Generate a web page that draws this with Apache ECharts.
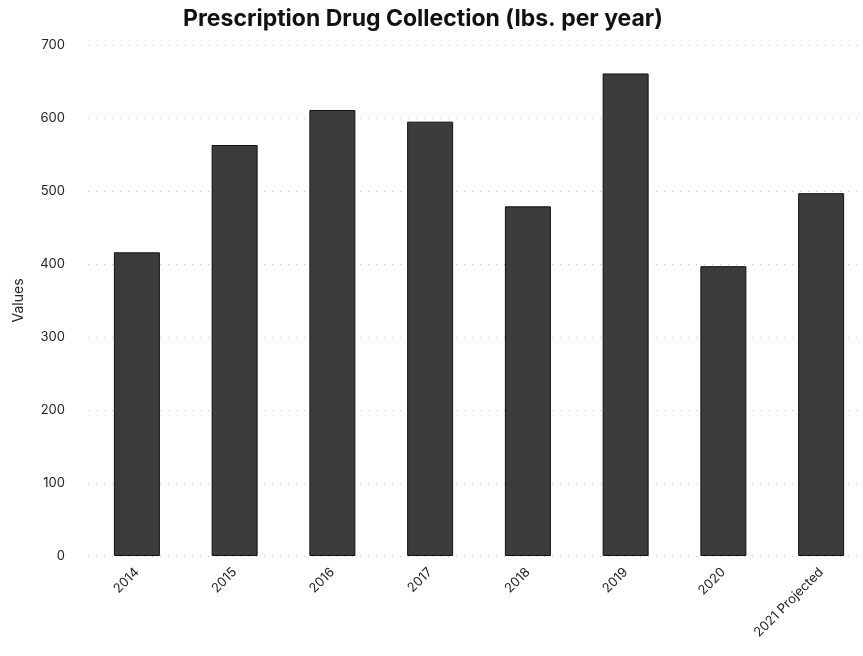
<!DOCTYPE html>
<html>
<head>
<meta charset="utf-8">
<script src="https://cdn.jsdelivr.net/npm/echarts@6/dist/echarts.min.js"></script>
<style>html,body{margin:0;padding:0;background:#fff;}#c{width:863px;height:656px;}</style>
</head>
<body>
<div id="c"></div>
<script>
var categories = ['2014', '2015', '2016', '2017', '2018', '2019', '2020', '2021 Projected'];
var values = [416, 563, 611, 595, 479, 661, 397, 497];
var yTicks = [0, 100, 200, 300, 400, 500, 600, 700];

var chart = echarts.init(document.getElementById('c'), null, {renderer: 'canvas'});
chart.setOption({
  backgroundColor: '#ffffff',
  animation: false,
  title: {
    text: 'Prescription Drug Collection (lbs. per year)',
    left: 418, top: 3, textAlign: 'center',
    textStyle: {fontFamily: 'Inter', fontWeight: 'bold', fontSize: 23, color: '#111'}
  },
  grid: {left: 88, top: 45, width: 782, bottom: 100, outerBoundsMode: 'none', containLabel: false},
  xAxis: {
    type: 'category',
    data: categories,
    axisLine: {show: false},
    axisTick: {show: false},
    axisLabel: {rotate: 45, margin: 14, fontFamily: 'Inter', fontSize: 13, color: '#222', interval: 0}
  },
  yAxis: {
    type: 'value',
    min: yTicks[0], max: yTicks[yTicks.length - 1], interval: 100,
    name: 'Values', nameLocation: 'middle', nameGap: 62, nameRotate: 90,
    nameTextStyle: {fontFamily: 'Inter', fontSize: 14, color: '#222'},
    axisLine: {show: false},
    axisTick: {show: false},
    axisLabel: {margin: 23, fontFamily: 'Inter', fontSize: 13, color: '#222'},
    splitLine: {show: true, lineStyle: {color: '#c4c4c4', type: [1, 7], width: 1}}
  },
  series: [{
    type: 'bar',
    data: values,
    barWidth: 46,
    itemStyle: {color: '#3c3c3c', borderColor: '#111', borderWidth: 1}
  }]
});
</script>
</body>
</html>
